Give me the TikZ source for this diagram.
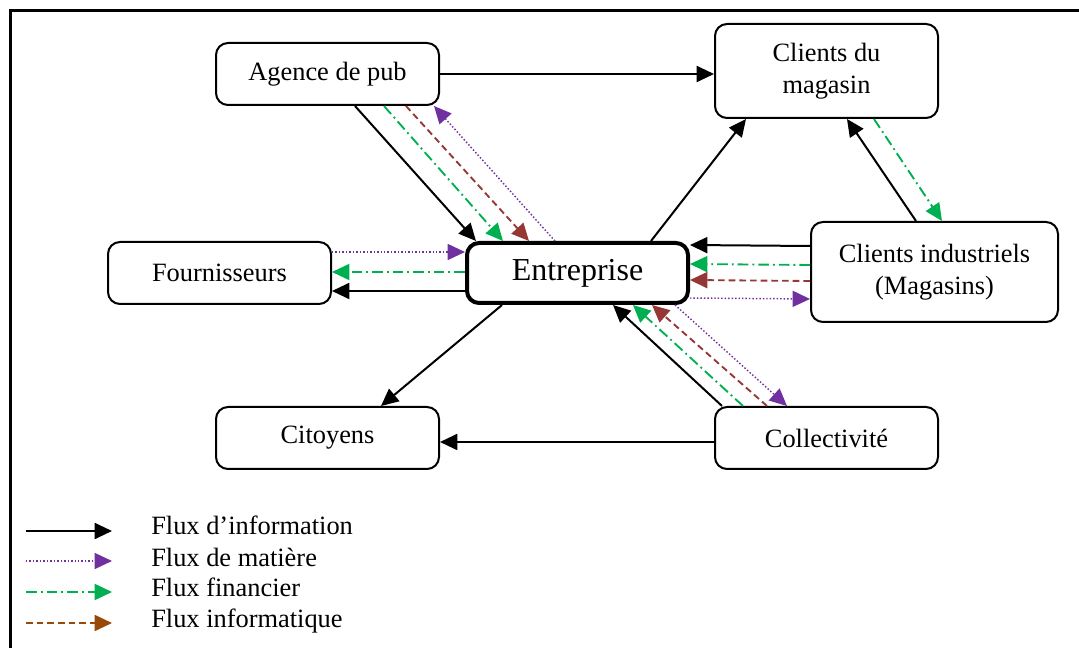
\documentclass[tikz,border=0pt]{standalone}
\usepackage{fontspec}
\setmainfont{Liberation Serif}
\usetikzlibrary{arrows.meta,calc}
\definecolor{mpurple}{HTML}{7030A0}
\definecolor{mgreen}{HTML}{00B050}
\definecolor{mbrown}{HTML}{953735}
\definecolor{lbrown}{HTML}{984807}
\begin{document}
\begin{tikzpicture}[x=0.75pt,y=-0.75pt,
  box/.style={draw, line width=1.5pt, rounded corners=9pt, inner sep=0pt, align=center,
    font=\fontsize{19.8}{24}\selectfont, minimum width=167.25pt, minimum height=46.5pt},
  bigbox/.style={box, line width=3pt, font=\fontsize{24}{29}\selectfont, minimum width=165.75pt, minimum height=45pt},
  tip/.style={-{Triangle[length=13pt,width=12pt]}},
  info/.style={tip, line width=1.5pt},
  mat/.style={tip, mpurple, line width=1.1pt, dash pattern=on 1.1pt off 1.5pt},
  fin/.style={tip, mgreen, line width=1.4pt, dash pattern=on 8pt off 3pt on 1.4pt off 3pt},
  infq/.style={tip, mbrown, line width=1.4pt, dash pattern=on 5pt off 3pt},
  legtext/.style={anchor=base west, inner sep=0pt, font=\fontsize{19.8}{24}\selectfont}
]
\useasboundingbox (0,0) rectangle (1079,648);
\draw[line width=2.25pt] (1079,11) -- (10,11) -- (10,648);

% nodes
\node[box] (agence) at (327.5,74) {Agence de pub};
\node[box, minimum height=70.5pt] (cdm) at (826.5,71) {Clients du\\magasin};
\node[box] (fourn) at (219.5,273) {Fournisseurs};
\node[bigbox] (entr) at (577.5,273) {Entreprise};
\node[box, minimum width=185.25pt, minimum height=75pt] (ci) at (934.5,272) {Clients industriels\\(Magasins)};
\node[box] (cit) at (327.5,438) {Citoyens};
\node[box] (coll) at (826.5,438) {Collectivité};

% Agence de pub
\draw[info] (agence.east) -- (agence.east -| cdm.west);
\draw[info] ($(agence.south west)+(140,0)$) -- ($(entr.north west)+(11,0)$);
\draw[fin]  ($(agence.south west)+(169,0)$) -- ($(entr.north west)+(38,0)$);
\draw[infq] ($(agence.south west)+(191,0)$) -- ($(entr.north west)+(64,0)$);
\draw[mat]  ($(entr.north west)+(90,0)$) -- ($(agence.south west)+(219,0)$);

% Fournisseurs
\draw[mat]  ($(fourn.north east)+(0,11)$) -- ($(entr.north west)+(0,11)$);
\draw[fin]  ($(entr.north west)+(0,31)$) -- ($(fourn.north east)+(0,31)$);
\draw[info] ($(entr.north west)+(0,50)$) -- ($(fourn.north east)+(0,50)$);

% Clients du magasin
\draw[info] ($(entr.north west)+(186,0)$) -- ($(cdm.south west)+(32,0)$);
\draw[info] ($(ci.north west)+(106,0)$) -- ($(cdm.south west)+(133,0)$);
\draw[fin]  ($(cdm.south west)+(160,0)$) -- ($(ci.north west)+(132,0)$);

% Clients industriels
\draw[info] ($(ci.north west)+(0,25)$) -- ($(entr.north east)+(0,4)$);
\draw[fin]  ($(ci.north west)+(0,44)$) -- ($(entr.north east)+(0,23)$);
\draw[infq] ($(ci.north west)+(0,60)$) -- ($(entr.north east)+(0,39)$);
\draw[mat]  ($(entr.north east)+(0,57)$) -- ($(ci.north west)+(0,78)$);

% Citoyens / Collectivite
\draw[info] ($(entr.south west)+(37,0)$) -- ($(cit.north west)+(166,0)$);
\draw[info] ($(coll.south west)+(0,-28)$) -- ($(cit.south east)+(0,-28)$);
\draw[info] ($(coll.north west)+(8,0)$) -- ($(entr.south west)+(148,0)$);
\draw[fin]  ($(coll.north west)+(29,0)$) -- ($(entr.south west)+(168,0)$);
\draw[infq] ($(coll.north west)+(53,0)$) -- ($(entr.south west)+(187,0)$);
\draw[mat]  ($(entr.south west)+(210,0)$) -- ($(coll.north west)+(73,0)$);

% legend
\coordinate (l1a) at (26,531); \coordinate (l1b) at (112,531);
\coordinate (l2a) at (26,561); \coordinate (l2b) at (112,561);
\coordinate (l3a) at (26,592); \coordinate (l3b) at (112,592);
\coordinate (l4a) at (26,623); \coordinate (l4b) at (112,623);
\draw[info] (l1a) -- (l1b);
\draw[mat]  (l2a) -- (l2b);
\draw[fin]  (l3a) -- (l3b);
\draw[infq, lbrown] (l4a) -- (l4b);
\node[legtext] (t1) at (151,535) {Flux d’information};
\node[legtext] (t2) at (151,566) {Flux de matière};
\node[legtext] (t3) at (151,597) {Flux financier};
\node[legtext] (t4) at (151,628) {Flux informatique};
\end{tikzpicture}
\end{document}
